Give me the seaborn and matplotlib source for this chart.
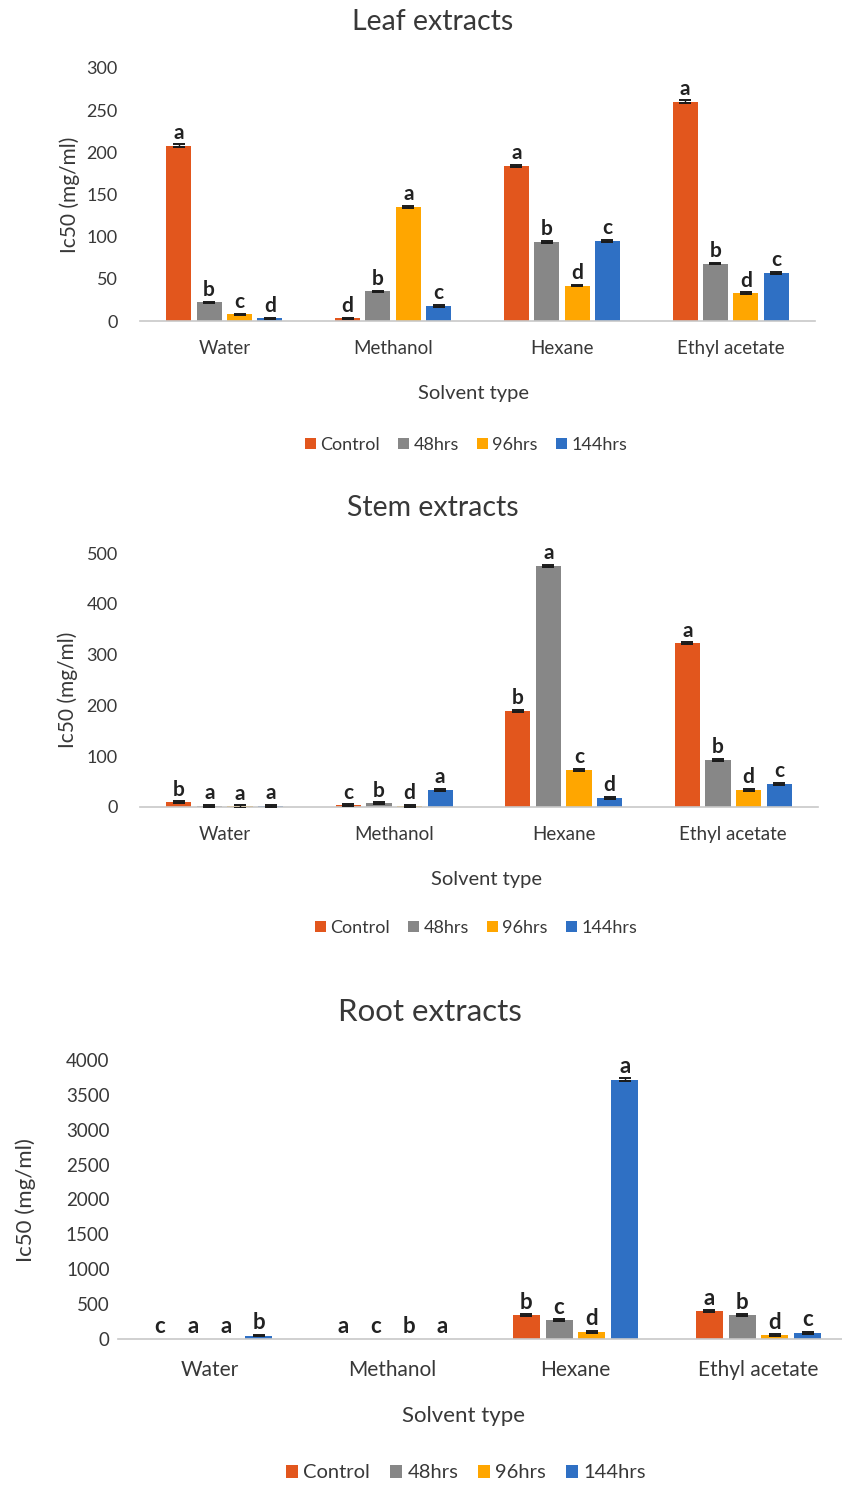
import matplotlib
matplotlib.use("Agg")
import matplotlib.pyplot as plt
from matplotlib.patches import Patch
import numpy as np
import pandas as pd
import seaborn as sns

solvents = ["Water", "Methanol", "Hexane", "Ethyl acetate"]
times = ["Control", "48hrs", "96hrs", "144hrs"]
colors = ["#E2561D", "#878787", "#FFA600", "#2F70C4"]

# IC50 values per time point, ordered as in `solvents`
leaf_vals = {
    "Control": [208, 3, 184, 260],
    "48hrs": [22, 35, 94, 68],
    "96hrs": [8, 135, 42, 33],
    "144hrs": [3, 18, 95, 57],
}
leaf_err = {
    "Control": [1.5, 0.8, 1.5, 1.5],
    "48hrs": [1.0, 1.0, 1.0, 1.0],
    "96hrs": [0.8, 1.5, 1.0, 1.0],
    "144hrs": [0.5, 1.0, 1.0, 1.0],
}
leaf_letters = {
    "Control": ["a", "d", "a", "a"],
    "48hrs": ["b", "b", "b", "b"],
    "96hrs": ["c", "a", "d", "d"],
    "144hrs": ["d", "c", "c", "c"],
}

stem_vals = {
    "Control": [9, 3, 189, 322],
    "48hrs": [2, 7, 475, 93],
    "96hrs": [1, 2, 73, 34],
    "144hrs": [2, 34, 18, 46],
}
stem_err = {
    "Control": [2, 2, 2, 2],
    "48hrs": [2, 2, 2, 2],
    "96hrs": [2, 2, 2, 2],
    "144hrs": [2, 2, 2, 2],
}
stem_letters = {
    "Control": ["b", "c", "b", "a"],
    "48hrs": ["a", "b", "a", "b"],
    "96hrs": ["a", "d", "c", "d"],
    "144hrs": ["a", "a", "d", "c"],
}

root_vals = {
    "Control": [4, 3, 340, 400],
    "48hrs": [2, 2, 268, 340],
    "96hrs": [2, 3, 105, 57],
    "144hrs": [50, 2, 3720, 90],
}
root_err = {
    "Control": [0, 0, 12, 12],
    "48hrs": [0, 0, 12, 12],
    "96hrs": [0, 0, 12, 12],
    "144hrs": [12, 0, 15, 12],
}
root_letters = {
    "Control": ["c", "a", "b", "a"],
    "48hrs": ["a", "c", "c", "b"],
    "96hrs": ["a", "b", "d", "d"],
    "144hrs": ["b", "a", "a", "c"],
}

W, H = 842, 1486
plt.rcParams["font.family"] = ["Lato", "DejaVu Sans"]
TXT = "#383838"

fig = plt.figure(figsize=(W / 100, H / 100), dpi=100)
fig.patch.set_facecolor("white")


def frac_box(left, right, top, bottom):
    return [left / W, 1 - bottom / H, (right - left) / W, (bottom - top) / H]


def fx(x):
    return x / W


def fy(y):
    return 1 - y / H


def panel(box, vals, errs, letters, ymax, ystep, title, title_xy, ylab_xy,
          xlab_xy, leg_xy, sz, let_off, ypad, xpad):
    ax = fig.add_axes(box)
    df = pd.DataFrame(
        [(s, t, vals[t][i]) for t in times for i, s in enumerate(solvents)],
        columns=["solvent", "time", "ic50"],
    )
    sns.barplot(data=df, x="solvent", y="ic50", hue="time", order=solvents,
                hue_order=times, palette=colors, errorbar=None, width=0.72,
                gap=0.18, saturation=1, legend=False, ax=ax)
    for t, cont in zip(times, ax.containers):
        xs = np.array([b.get_x() + b.get_width() / 2 for b in cont])
        hs = np.array([b.get_height() for b in cont])
        es = np.array(errs[t], dtype=float)
        keep = es > 0
        if keep.any():
            ax.errorbar(xs[keep], hs[keep], yerr=es[keep], fmt="none",
                        ecolor="#1a1a1a", elinewidth=1, capsize=4,
                        capthick=1.4, zorder=3)
        for x, h, e, lab in zip(xs, hs, es, letters[t]):
            ax.text(x, h + e + let_off, lab, ha="center", va="bottom",
                    fontsize=sz["letter"], fontweight="bold", color="#222222",
                    clip_on=False)
    ax.set_ylim(0, ymax)
    ax.set_xlim(-0.5, 3.5)
    ax.set_yticks(np.arange(0, ymax + 1, ystep))
    ax.set_xlabel("")
    ax.set_ylabel("")
    for side in ["top", "left", "right"]:
        ax.spines[side].set_visible(False)
    ax.spines["bottom"].set_color("#c8c8c8")
    ax.spines["bottom"].set_linewidth(1.2)
    ax.tick_params(axis="y", length=0, labelsize=sz["ytick"], colors=TXT,
                   pad=ypad)
    ax.tick_params(axis="x", length=0, labelsize=sz["xtick"], colors=TXT,
                   pad=xpad)
    ax.grid(False)
    fig.text(fx(title_xy[0]), fy(title_xy[1]), title, ha="center",
             va="center", fontsize=sz["title"], color=TXT)
    fig.text(fx(ylab_xy[0]), fy(ylab_xy[1]), "Ic50 (mg/ml)", ha="center",
             va="center", rotation=90, fontsize=sz["ylabel"], color=TXT)
    fig.text(fx(xlab_xy[0]), fy(xlab_xy[1]), "Solvent type", ha="center",
             va="center", fontsize=sz["xlabel"], color=TXT)
    handles = [Patch(facecolor=c, label=t) for c, t in zip(colors, times)]
    fig.legend(handles=handles, loc="center",
               bbox_to_anchor=(fx(leg_xy[0]), fy(leg_xy[1])), ncol=4,
               frameon=False, fontsize=sz["legend"], handlelength=0.6,
               handleheight=0.6, handletextpad=0.25, columnspacing=1.0,
               labelcolor=TXT)
    return ax


small = dict(ytick=13, xtick=13.5, legend=13, xlabel=14.5, ylabel=15,
             title=20.5, letter=15)
large = dict(ytick=13.5, xtick=15, legend=14.5, xlabel=16, ylabel=16,
             title=22.5, letter=16)

panel(frac_box(140, 815, 68, 321), leaf_vals, leaf_err, leaf_letters, 300, 50,
      "Leaf extracts", (433, 22), (70, 195), (473, 393), (466, 445),
      small, let_off=2, ypad=16, xpad=14)
panel(frac_box(140, 818, 553, 807), stem_vals, stem_err, stem_letters, 500, 100,
      "Stem extracts", (433, 508), (68, 690), (486, 879), (476, 928),
      small, let_off=3, ypad=16, xpad=14)
panel(frac_box(118, 850, 1060, 1339), root_vals, root_err, root_letters, 4000, 500,
      "Root extracts", (430, 1012), (26, 1200), (463, 1416), (466, 1473),
      large, let_off=20, ypad=6, xpad=15)

fig.savefig("out.png", dpi=100, facecolor="white")
